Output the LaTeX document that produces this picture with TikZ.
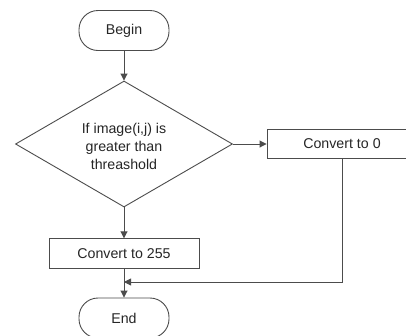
\documentclass[tikz,border=0pt]{standalone}
\usepackage{fontspec}
\setmainfont{Liberation Sans}
\usetikzlibrary{shapes.geometric,arrows.meta}
\begin{document}
\begin{tikzpicture}[x=1pt,y=-1pt,
  every node/.style={font=\fontsize{14.2}{18}\selectfont, text=black!85},
  term/.style={draw=black!70, line width=0.9pt, rounded corners=19pt, minimum width=90pt, minimum height=40pt, inner sep=0pt},
  proc/.style={draw=black!70, line width=0.9pt, minimum width=150pt, minimum height=29.5pt, inner sep=0pt},
  dec/.style={draw=black!70, line width=0.9pt, diamond, minimum width=217pt, minimum height=126pt, inner sep=0pt},
  conn/.style={draw=black!70, line width=0.9pt},
  arr/.style={conn, -{Triangle[length=7pt,width=7pt]}}
]
\clip (0,0) rectangle (406,335);
\fill[white] (0,0) rectangle (406,335);
\node[term] (begin) at (124,30.5) {Begin};
\node[dec] (d) at (124,144) {};
\node[align=center] (dt) at (124,146) {If image(i,j) is\\greater than\\threashold};
\node[proc] (c0) at (342,144) {Convert to 0};
\node[proc] (c255) at (124,253.5) {Convert to 255};
\node[term] (end) at (124,318) {End};
\coordinate (m) at (124,282);
\draw[arr] (begin) -- (d.north);
\draw[arr] (d.east) -- (c0.west);
\draw[arr] (d.south) -- (c255.north);
\draw[arr] (c255.south) -- (end.north);
\draw[arr] (c0.south) |- (m);
\end{tikzpicture}
\end{document}
